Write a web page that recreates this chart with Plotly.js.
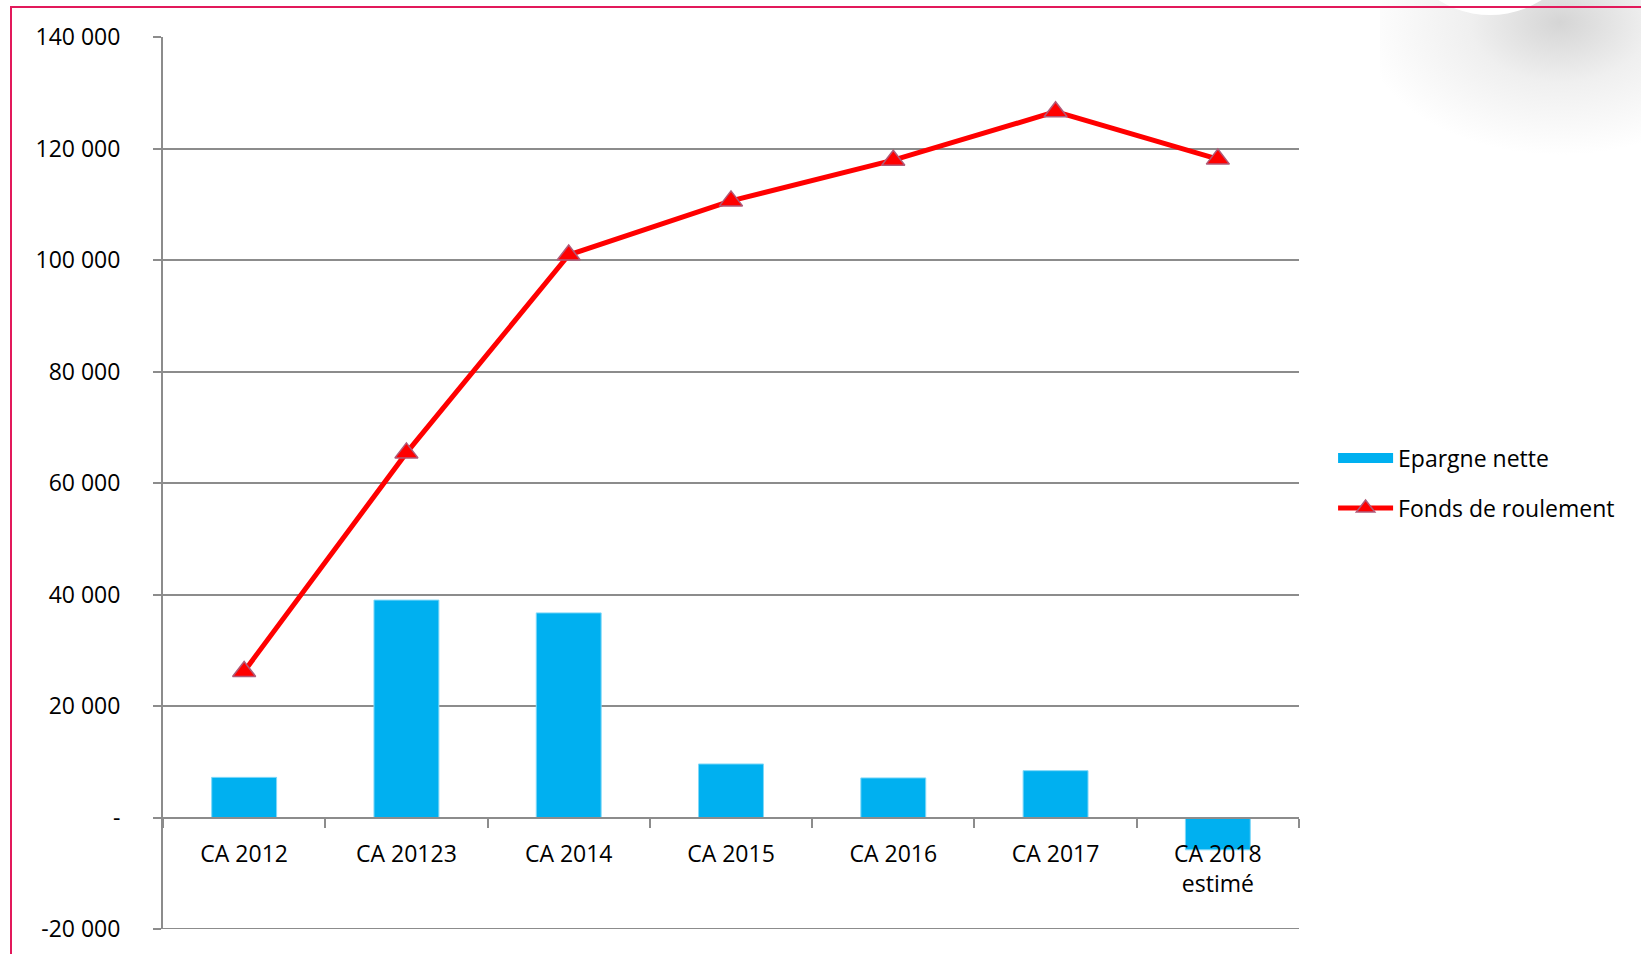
<!DOCTYPE html>
<html>
<head>
<meta charset="utf-8">
<script src="https://cdn.plot.ly/plotly-3.0.1.min.js"></script>
<style>
  html, body { margin: 0; padding: 0; background: #ffffff; }
  #wrap { position: relative; width: 1641px; height: 954px; overflow: hidden; background: #ffffff; }
  #shadow { position: absolute; left: 1380px; top: -110px; width: 400px; height: 265px;
    background: radial-gradient(ellipse 50% 50% at 45% 50%, rgba(185,185,185,0.6) 0%, rgba(210,210,210,0.35) 45%, rgba(255,255,255,0) 100%); }
  #disk { position: absolute; left: 1400px; top: -150px; width: 180px; height: 165px; border-radius: 50%; background: #ffffff; }
  #frame { position: absolute; left: 10px; top: 6px; width: 1700px; height: 1000px;
    border-top: 2px solid #e2195b; border-left: 2px solid #e2195b; }
  #chart { position: absolute; left: 0; top: 0; width: 1641px; height: 954px; }
</style>
</head>
<body>
<div id="wrap">
  <div id="shadow"></div>
  <div id="disk"></div>
  <div id="frame"></div>
  <div id="chart"></div>
</div>
<script>
// ---- data ----
const categories = ["CA 2012", "CA 20123", "CA 2014", "CA 2015", "CA 2016", "CA 2017", "CA 2018<br>estimé"];
const epargneNette = [7200, 39000, 36700, 9600, 7100, 8400, -5800];
const fondsDeRoulement = [26200, 65400, 100900, 110600, 117900, 126600, 118100];
const yTickVals = [-20000, 0, 20000, 40000, 60000, 80000, 100000, 120000, 140000];
const yTickText = ["-20 000", "-", "20 000", "40 000", "60 000", "80 000", "100 000", "120 000", "140 000"];
const seriesNames = ["Epargne nette", "Fonds de roulement"];

const gridColor = "#8c8c8c";
const barColor = "#00b0f0";
const fontFamily = "'Open Sans', 'Liberation Sans', sans-serif";
const fs = 23;

const traces = [
  {
    type: "bar",
    name: seriesNames[0],
    x: categories,
    y: epargneNette,
    showlegend: false,
    marker: { color: barColor, line: { color: "#80d8f8", width: 1 } },
    hoverinfo: "x+y"
  },
  {
    // legend entry for the bar series (wide swatch like the original)
    type: "scatter",
    mode: "lines",
    name: seriesNames[0],
    x: [null],
    y: [null],
    legendgroup: "a",
    line: { color: barColor, width: 13 },
    hoverinfo: "skip"
  },
  {
    type: "scatter",
    mode: "lines+markers",
    name: seriesNames[1],
    x: categories,
    y: fondsDeRoulement,
    legendgroup: "b",
    line: { color: "#ff0000", width: 5 },
    marker: { symbol: "triangle-up", size: 20, color: "#ff0000", line: { color: "#b05a78", width: 1.5 } },
    hoverinfo: "x+y"
  }
];

const layout = {
  width: 1641,
  height: 954,
  margin: { l: 163, r: 342, t: 37, b: 25, autoexpand: false },
  paper_bgcolor: "rgba(0,0,0,0)",
  plot_bgcolor: "rgba(0,0,0,0)",
  font: { family: fontFamily, size: fs, color: "#000000" },
  bargap: 0.6,
  showlegend: true,
  legend: {
    x: 1.03, xanchor: "left",
    y: 0.552, yanchor: "top",
    tracegroupgap: 17,
    traceorder: "grouped",
    itemwidth: 55,
    font: { family: fontFamily, size: fs, color: "#000000" },
    bgcolor: "rgba(0,0,0,0)"
  },
  xaxis: {
    type: "category",
    range: [-0.5, 6.5],
    anchor: "free",
    position: 0.125,
    showline: true,
    linecolor: gridColor,
    linewidth: 2,
    ticks: "outside",
    tickson: "boundaries",
    ticklen: 9,
    tickwidth: 2,
    tickcolor: gridColor,
    showgrid: false,
    tickfont: { family: fontFamily, size: fs, color: "#000000" },
    ticklabelstandoff: 16,
    automargin: false,
    fixedrange: true
  },
  yaxis: {
    range: [-20000, 140000],
    domain: [0, 1],
    tickvals: yTickVals,
    ticktext: yTickText,
    showline: true,
    linecolor: gridColor,
    linewidth: 2,
    ticks: "outside",
    ticklen: 8,
    tickwidth: 2,
    tickcolor: gridColor,
    showgrid: true,
    gridcolor: gridColor,
    gridwidth: 2,
    zeroline: true,
    zerolinecolor: gridColor,
    zerolinewidth: 2,
    tickfont: { family: fontFamily, size: fs, color: "#000000" },
    ticklabelstandoff: 28,
    automargin: false,
    fixedrange: true
  },
  shapes: [
    { type: "line", xref: "paper", yref: "y", x0: 0, x1: 1, y0: yTickVals[0], y1: yTickVals[0],
      line: { color: gridColor, width: 2 }, layer: "below" }
  ]
};

Plotly.newPlot("chart", traces, layout, { displayModeBar: false });
</script>
</body>
</html>
